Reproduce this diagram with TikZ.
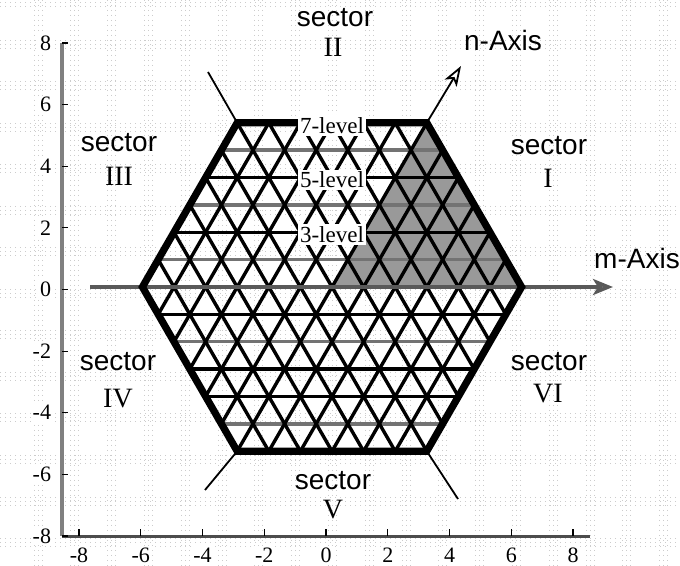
\documentclass[tikz,border=0pt]{standalone}
\usepackage{fontspec}
\setmainfont{Liberation Serif}
\setsansfont{Liberation Sans}
\usetikzlibrary{arrows.meta}
\begin{document}
\begin{tikzpicture}[x=0.5pt,y=-0.5pt,
  bgdots/.style={gray!40, line width=0.5pt, dash pattern=on 0.5pt off 2pt},
  lspine/.style={black!50, line width=2pt},
  bspine/.style={black!70, line width=1.5pt},
  tickmark/.style={black, line width=0.6pt},
  ticklbl/.style={font=\rmfamily\fontsize{11}{13}\selectfont, fill=white, inner sep=0.8pt},
  sectorlbl/.style={font=\sffamily\fontsize{14}{16}\selectfont, inner sep=0pt},
  romanlbl/.style={font=\rmfamily\fontsize{14}{16}\selectfont, inner sep=0pt},
  axislbl/.style={font=\sffamily\fontsize{14}{16}\selectfont, inner sep=0pt},
  levellbl/.style={font=\rmfamily\fontsize{11.5}{13}\selectfont, fill=white, inner sep=1.2pt},
  sectorfill/.style={fill=black!40},
  hgray/.style={black!55, line width=1.7pt},
  hblack/.style={black, line width=1.7pt},
  diag/.style={black, line width=1.7pt},
  hexedge/.style={black, line width=3.6pt, line join=miter},
  secline/.style={black, line width=0.9pt},
  maxis/.style={black!65, line width=1.8pt, -{Stealth[open, length=10pt, width=8pt, inset=2.5pt]}},
  naxis/.style={black, line width=0.9pt, -{Stealth[open, length=10pt, width=7pt, inset=2.5pt]}}
]
\useasboundingbox (0,0) rectangle (680,566);
% background texture
\foreach \i in {0,...,17} {\foreach \d in {-4,0,4} {\draw[bgdots] ({38+36.8*\i+\d},0) -- ++(0,566);}}
\foreach \i in {0,...,13} {\foreach \d in {-4,0,4} {\draw[bgdots] (0,{3+41.5*\i+\d}) -- ++(680,0);}}

% axes
\coordinate (Ytop) at (62,43);
\coordinate (Corner) at (62,536);
\coordinate (Xend) at (590,536);
\draw[lspine] (Ytop) -- (Corner);
\draw[bspine] (Corner) -- (Xend);
\foreach \v [count=\k from 0] in {-8,-6,-4,-2,0,2,4,6,8} {
  \coordinate (xt\k) at ({79+61.75*\k},536);
  \draw[tickmark] (xt\k) -- ++(0,-7);
  \node[ticklbl] (xl\k) at ({79+61.75*\k},555) {\v};
  \coordinate (yt\k) at (62,{536-61.625*\k});
  \draw[tickmark] (yt\k) -- ++(6,0);
  \node[ticklbl, anchor=east] (yl\k) at (53,{536-61.625*\k}) {\v};
}

% hexagon geometry
\coordinate (O) at (332,287);
\coordinate (V0) at (521.6,287);
\coordinate (V1) at (426.8,122.8);
\coordinate (V2) at (237.2,122.8);
\coordinate (V3) at (142.4,287);
\coordinate (V4) at (237.2,451.2);
\coordinate (V5) at (426.8,451.2);

% shaded sector I
\fill[sectorfill] (O) -- (V0) -- (V1) -- cycle;

% triangular grid
\begin{scope}
\clip (V0) -- (V1) -- (V2) -- (V3) -- (V4) -- (V5) -- cycle;
\foreach \k in {-5,-2,1,3,5} {\draw[hgray] (100,{287-27.366*\k}) -- (570,{287-27.366*\k});}
\foreach \k in {-4,-3,-1,2,4} {\draw[hblack] (100,{287-27.366*\k}) -- (570,{287-27.366*\k});}
\foreach \j in {-12,...,12} {
  \draw[diag] ({332+31.6*\j-100},460.2) -- ++(200,-346.4);
  \draw[diag] ({332+31.6*\j+100},460.2) -- ++(-200,-346.4);
}
\end{scope}

% m-axis
\coordinate (Mstart) at (90,287);
\coordinate (Mtip) at (613,287);
\draw[maxis] (Mstart) -- (Mtip);

% outer hexagon
\draw[hexedge] (V0) -- (V1) -- (V2) -- (V3) -- (V4) -- (V5) -- cycle;

% sector boundary lines and n-axis
\coordinate (Ntip) at (461,66);
\coordinate (E2) at (208,72);
\coordinate (E4) at (205,490);
\coordinate (E5) at (458,499);
\draw[naxis] (V1) -- (Ntip);
\draw[secline] (V2) -- (E2);
\draw[secline] (V4) -- (E4);
\draw[secline] (V5) -- (E5);

% level labels
\node[levellbl] (L7) at (332,125.5) {7-level};
\node[levellbl] (L5) at (332,180) {5-level};
\node[levellbl] (L3) at (332,234.5) {3-level};

% axis labels
\node[axislbl] (nlab) at (503,40) {n-Axis};
\node[axislbl] (mlab) at (637,258) {m-Axis};

% sector labels
\node[sectorlbl] (s2) at (335,18) {sector};
\node[romanlbl] (r2) at (333,47) {II};
\node[sectorlbl] (s1) at (549,146) {sector};
\node[romanlbl] (r1) at (548,178) {I};
\node[sectorlbl] (s3) at (119,143) {sector};
\node[romanlbl] (r3) at (119,176) {III};
\node[sectorlbl] (s4) at (118,362) {sector};
\node[romanlbl] (r4) at (118,399) {IV};
\node[sectorlbl] (s6) at (549,362) {sector};
\node[romanlbl] (r6) at (548,394) {VI};
\node[sectorlbl] (s5) at (333,481) {sector};
\node[romanlbl] (r5) at (333,510) {V};
\end{tikzpicture}
\end{document}
